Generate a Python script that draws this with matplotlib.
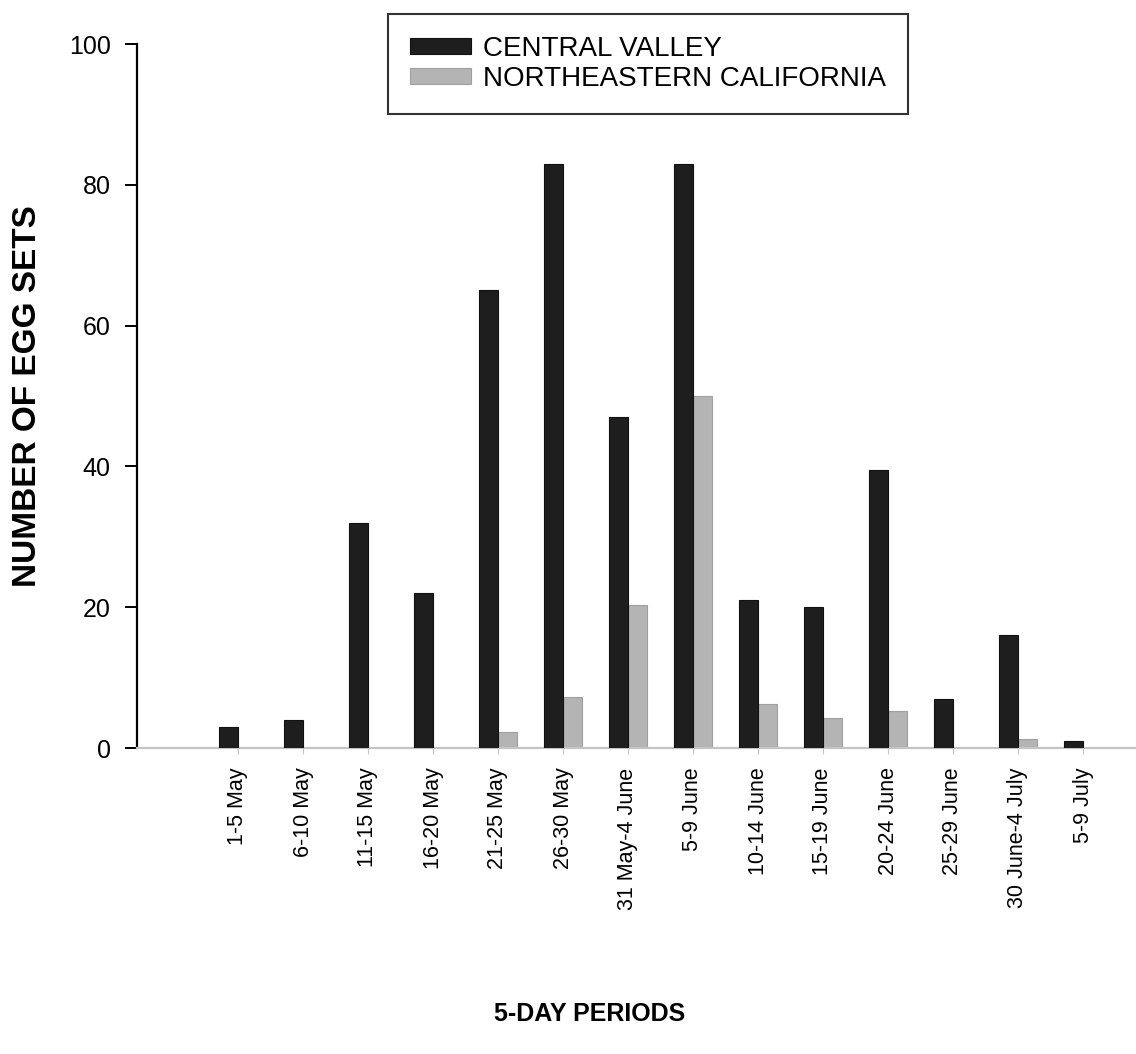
import matplotlib
matplotlib.use("Agg")
import matplotlib.pyplot as plt
import numpy as np

periods = ["1-5 May", "6-10 May", "11-15 May", "16-20 May", "21-25 May",
           "26-30 May", "31 May-4 June", "5-9 June", "10-14 June",
           "15-19 June", "20-24 June", "25-29 June", "30 June-4 July",
           "5-9 July"]
central_valley = [3, 4, 32, 22, 65, 83, 47, 83, 21, 20, 39.5, 7, 16, 1]
northeastern_ca = [0, 0, 0, 0, 2.3, 7.3, 20.3, 50, 6.3, 4.3, 5.3, 0, 1.3, 0]
y_ticks = [0, 20, 40, 60, 80, 100]

plt.rcParams["font.family"] = ["Liberation Sans", "DejaVu Sans"]

W, H = 1136, 1054
fig = plt.figure(figsize=(W / 100, H / 100), dpi=100)
ax_left = 137
ax = fig.add_axes([ax_left / W, (H - 748) / H, (W - ax_left) / W, (748 - 44) / H])

x = np.arange(len(periods))
bw = 0.29
ax.bar(x - 0.145, central_valley, width=bw, color="#1e1e1e",
       edgecolor="#111111", linewidth=0.8, label="CENTRAL VALLEY", zorder=3)
ax.bar(x + 0.145, northeastern_ca, width=bw, color="#b4b4b4",
       edgecolor="#a0a0a0", linewidth=0.8, label="NORTHEASTERN CALIFORNIA",
       zorder=2)

ax.set_xlim((ax_left - 238) / 65, (W - 238) / 65)
ax.set_ylim(0, 100)
ax.set_yticks(y_ticks)
ax.set_yticklabels([str(v) for v in y_ticks], fontsize=18)
ax.set_xticks(x)
ax.set_xticklabels(periods, rotation=90, fontsize=15.5)

for s in ("top", "right"):
    ax.spines[s].set_visible(False)
ax.spines["left"].set_color("black")
ax.spines["left"].set_linewidth(1.6)
ax.spines["bottom"].set_color("#c4c4c4")
ax.spines["bottom"].set_linewidth(1.6)
ax.tick_params(axis="y", direction="out", length=9, width=1.4, pad=10,
               colors="black")
ax.tick_params(axis="x", direction="out", length=4, width=0.8,
               color="#c4c4c4", labelcolor="black", pad=10)

fig.text(28 / W, 1 - 396 / H, "NUMBER OF EGG SETS", rotation=90,
         ha="center", va="center", fontsize=24, fontweight="bold")
fig.text(590 / W, 1 - 1014 / H, "5-DAY PERIODS", ha="center", va="center",
         fontsize=18, fontweight="bold")

leg = fig.legend(loc="center", bbox_to_anchor=(648 / W, 1 - 64 / H),
                 fontsize=20, frameon=True, fancybox=False,
                 handlelength=2.2, handleheight=0.5, handletextpad=0.4,
                 labelspacing=0.15, borderpad=0.8)
leg.get_frame().set_edgecolor("black")
leg.get_frame().set_linewidth(1.5)

fig.savefig("out.png", dpi=100)
